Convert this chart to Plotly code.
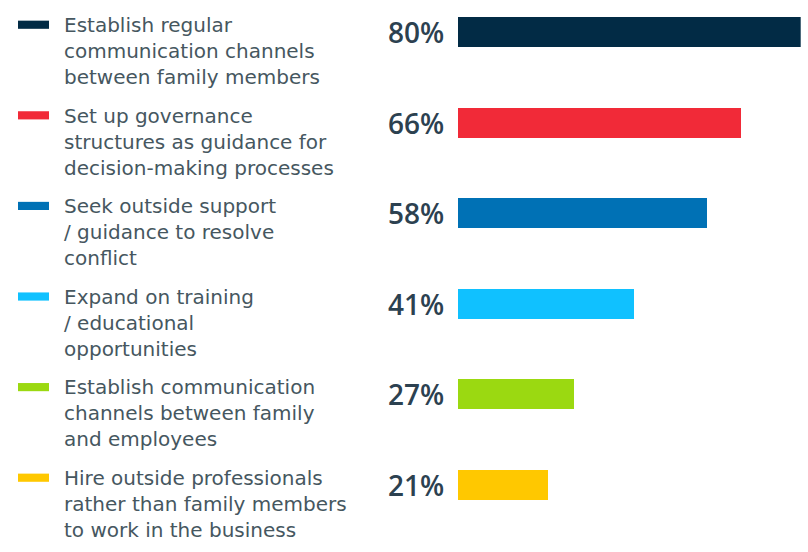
import plotly.graph_objects as go

# Survey responses: share of respondents choosing each measure
categories = [
    "Establish regular<br>communication channels<br>between family members",
    "Set up governance<br>structures as guidance for<br>decision-making processes",
    "Seek outside support<br>/ guidance to resolve<br>conflict",
    "Expand on training<br>/ educational<br>opportunities",
    "Establish communication<br>channels between family<br>and employees",
    "Hire outside professionals<br>rather than family members<br>to work in the business",
]
values = [80, 66, 58, 41, 27, 21]
colors = ["#022b45", "#f12a38", "#0071b5", "#10c1ff", "#9bd911", "#ffc800"]

W, H = 808, 552
LABEL_FONT = "Open Sans"
TEXT_FONT = "DejaVu Sans"
LABEL_COLOR = "#2c4150"
TEXT_COLOR = "#46575f"

idx = list(range(len(values)))

fig = go.Figure(
    go.Bar(
        x=values,
        y=idx,
        orientation="h",
        marker=dict(color=colors, line=dict(width=0)),
        width=0.33,
        hoverinfo="skip",
    )
)

# percentage labels to the left of each bar
for i, v in zip(idx, values):
    fig.add_annotation(
        x=0, y=i, xref="x", yref="y",
        text=f"{v}%", showarrow=False,
        xanchor="right", yanchor="middle", xshift=-12,
        font=dict(family=LABEL_FONT, size=28, color=LABEL_COLOR, weight=600),
    )

# custom legend: colour swatch plus wrapped description
for i, (label, c) in enumerate(zip(categories, colors)):
    fig.add_shape(
        type="rect", xref="paper", yref="y",
        x0=18 / W, x1=49 / W,
        y0=i - 0.08 - 0.045, y1=i - 0.08 + 0.045,
        fillcolor=c, line=dict(width=0),
    )
    fig.add_annotation(
        x=62 / W, y=i, xref="paper", yref="y",
        text=label, showarrow=False, align="left",
        xanchor="left", yanchor="middle", yshift=-19,
        font=dict(family=TEXT_FONT, size=20, color=TEXT_COLOR),
    )

fig.update_layout(
    width=W, height=H,
    margin=dict(l=0, r=0, t=0, b=0),
    paper_bgcolor="white", plot_bgcolor="white",
    showlegend=False,
    bargap=0,
    xaxis=dict(domain=[457.5 / W, 800.7 / W], range=[0, 80],
               visible=False, fixedrange=True),
    yaxis=dict(range=[5.74, -0.353], visible=False, fixedrange=True),
)

fig.write_html("out.html")
